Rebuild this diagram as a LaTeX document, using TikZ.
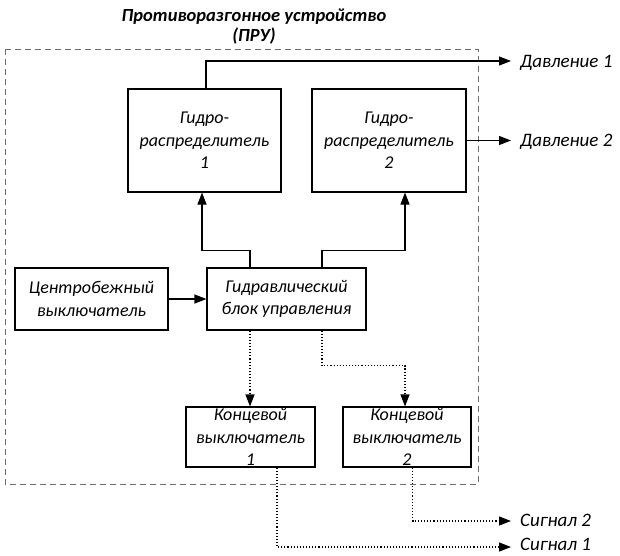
\documentclass[tikz,border=0pt]{standalone}
\usepackage{fontspec}
\setmainfont{Carlito}
\usetikzlibrary{arrows.meta}
\tikzset{
  box/.style={draw, line width=1.1pt, align=center, inner sep=0pt, font=\itshape\fontsize{18}{22.5}\selectfont},
  lbl/.style={anchor=west, inner xsep=9pt, inner ysep=0pt, text height=12pt, text depth=0pt, font=\itshape\fontsize{19}{22.5}\selectfont},
  arr/.style={line width=1.1pt, -{Triangle[length=12pt,width=9pt]}},
  darr/.style={arr, dotted},
  frame/.style={draw=gray!85!black, line width=0.9pt, dash pattern=on 6pt off 4pt}
}
\begin{document}
\begin{tikzpicture}[x=1pt,y=1pt]
\useasboundingbox (0,0) rectangle (620,-555);
\draw[frame] (5,-49) rectangle (478,-484);
\node[font=\bfseries\itshape\fontsize{18.5}{20}\selectfont, align=center] (title) at (254,-27) {Противоразгонное устройство\\(ПРУ)};
\node[box, minimum width=153pt, minimum height=103pt] (b1) at (204.5,-140.5) {Гидро-\\распределитель\\1};
\node[box, minimum width=154pt, minimum height=103pt] (b2) at (389,-140.5) {Гидро-\\распределитель\\2};
\node[box, minimum width=153pt, minimum height=62pt] (c) at (91.5,-299) {Центробежный\\выключатель};
\node[box, minimum width=159pt, minimum height=62pt] (g) at (286.5,-299) {Гидравлический\\блок управления};
\node[box, minimum width=129pt, minimum height=60pt] (k1) at (250.5,-437) {Концевой\\выключатель\\1};
\node[box, minimum width=128pt, minimum height=60pt] (k2) at (407,-437) {Концевой\\выключатель\\2};
\node[lbl] (d1) at (511,-61) {Давление 1};
\node[lbl] (d2) at (511,-140.5) {Давление 2};
\node[lbl] (s2) at (511,-520) {Сигнал 2};
\node[lbl] (s1) at (511,-544) {Сигнал 1};
\draw[arr] ([xshift=1.5pt]b1.north) |- (d1.west);
\draw[arr] (b2.east) -- (d2.west);
\draw[arr] (c.east) -- (g.west);
\draw[arr] ([xshift=-36.5pt]g.north) -- ++(0,17) -| ([xshift=-2.5pt]b1.south);
\draw[arr] ([xshift=35.5pt]g.north) -- ++(0,17) -| ([xshift=16pt]b2.south);
\draw[darr] ([xshift=-36.5pt]g.south) -- ([xshift=-0.5pt]k1.north);
\draw[darr] ([xshift=35.5pt]g.south) -- ++(0,-35) -| ([xshift=-2pt]k2.north);
\draw[darr] ([xshift=26.5pt]k1.south) |- ([yshift=-3pt]s1.west);
\draw[darr] ([xshift=5.5pt]k2.south) |- ([yshift=-1pt]s2.west);
\end{tikzpicture}
\end{document}
